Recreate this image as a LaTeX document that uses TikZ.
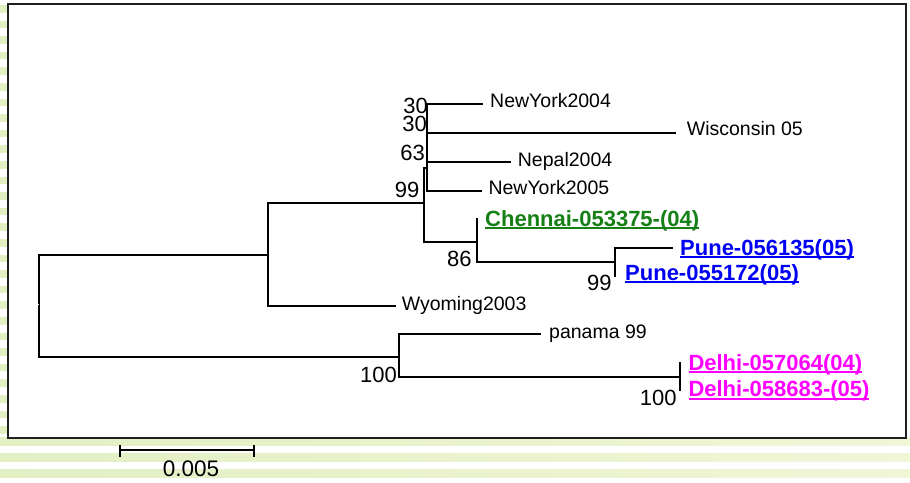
\documentclass[tikz,border=0pt]{standalone}
\usepackage{fontspec}
\setmainfont{Liberation Sans}
\definecolor{stripe}{RGB}{226,239,195}
\definecolor{stripelight}{RGB}{240,246,214}
\definecolor{cladegreen}{RGB}{22,128,22}
\definecolor{cladeblue}{RGB}{0,0,245}
\definecolor{clademagenta}{RGB}{255,0,255}
% underlined label with a heavy rule
\newcommand\heavyul[1]{\setbox0\hbox{#1}\rlap{\rule[-3.4pt]{\wd0}{2.1pt}}\box0}
\tikzset{
  branch/.style={line width=1.25pt, black, line cap=rect},
  taxon/.style={anchor=base west, inner sep=0pt, font=\fontsize{19.5}{22}\selectfont},
  boot/.style={anchor=base east, inner sep=0pt, font=\fontsize{22}{24}\selectfont},
  isolate/.style={anchor=base west, inner sep=0pt, font=\fontsize{22}{24}\selectfont\bfseries},
}
\begin{document}
\begin{tikzpicture}[x=1pt,y=-1pt]
\useasboundingbox (0,0) rectangle (910,482);
\fill[white] (0,0) rectangle (910,482);

% striped page decoration
\foreach \k in {0,...,27} {
  \fill[stripe] (0,{5+15.6*\k}) rectangle (7.5,{12.5+15.6*\k});
}
\foreach \yy in {437.5,453.5,469.5} {
  \shade[left color=stripe, right color=stripelight] (0,\yy) rectangle (910,\yy+7.5);
}

% frame
\fill[white] (8.3,4.3) rectangle (906,438);
\draw[line width=2.3pt, black!88] (8.3,4.3) rectangle (906,438);

% internal nodes of the tree
\coordinate (R) at (39,306);
\coordinate (A) at (268,255);
\coordinate (B) at (424,203);
\coordinate (C) at (427,168);
\coordinate (D) at (477,242);
\coordinate (E) at (615,262);
\coordinate (F) at (399,357);
\coordinate (G) at (680,377);

% tips
\coordinate (ny04) at (482,104);
\coordinate (wis) at (675,133);
\coordinate (nep) at (510,162);
\coordinate (ny05) at (481,191);
\coordinate (chen) at (477,219);
\coordinate (pune1) at (672,248);
\coordinate (pune2) at (615,276);
\coordinate (wyo) at (395,306);
\coordinate (pan) at (540,334);
\coordinate (del1) at (680,363);
\coordinate (del2) at (680,390);

% branches
\draw[branch] (A) -| (R) |- (F);
\draw[white, line width=1pt] (37.6,304) -- (39.2,304);
\draw[branch] (B) -| (A) |- (wyo);
\draw[branch] (C) -| (B) |- (D);
\draw[branch] (ny04) -| (C) |- (ny05);
\draw[branch] (C |- wis) -- (wis);
\draw[branch] (C |- nep) -- (nep);
\draw[branch] (chen) -| (D) |- (E);
\draw[branch] (pune1) -| (E) |- (pune2);
\draw[branch] (pan) -| (F) |- (G);
\draw[branch] (del1) -| (G) |- (del2);

% bootstrap values
\node[boot] (b1) at (428,113.3) {30};
\node[boot] (b2) at (427,131.7) {30};
\node[boot] (b3) at (425,160) {63};
\node[boot] (b4) at (419.5,197.7) {99};
\node[boot] (b5) at (471.7,266.7) {86};
\node[boot] (b6) at (611.7,290.7) {99};
\node[boot] (b7) at (397,382.7) {100};
\node[boot] (b8) at (676.7,405) {100};

% taxon labels
\node[taxon] (lny04) at (490,107.3) {NewYork2004};
\node[taxon] (lwis) at (686.7,135.7) {Wisconsin 05};
\node[taxon] (lnep) at (517.7,166) {Nepal2004};
\node[taxon] (lny05) at (488.3,194) {NewYork2005};
\node[taxon] (lwyo) at (401.7,310) {Wyoming2003};
\node[taxon] (lpan) at (549,338) {panama 99};
\node[isolate, text=cladegreen] (lchen) at (485,226) {\heavyul{Chennai-053375-(04)}};
\node[isolate, text=cladeblue] (lp1) at (680,255) {\heavyul{Pune-056135(05)}};
\node[isolate, text=cladeblue] (lp2) at (625,280) {\heavyul{Pune-055172(05)}};
\node[isolate, text=clademagenta] (ld1) at (688.3,370) {\heavyul{Delhi-057064(04)}};
\node[isolate, text=clademagenta] (ld2) at (688.3,396.7) {\heavyul{Delhi-058683-(05)}};

% scale bar
\coordinate (s1) at (119.5,450);
\coordinate (s2) at (254,450);
\draw[line width=2pt] (s1) -- (s2);
\draw[line width=2pt] ([yshift=-6.5pt]s1) -- ([yshift=5pt]s1);
\draw[line width=2pt] ([yshift=-6.5pt]s2) -- ([yshift=5pt]s2);
\node[anchor=base, inner sep=0pt, font=\fontsize{22.5}{24}\selectfont] (slab) at (191,476) {0.005};
\end{tikzpicture}
\end{document}
